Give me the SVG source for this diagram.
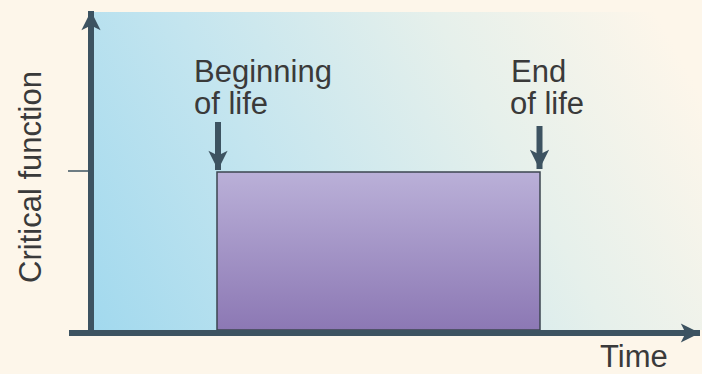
<svg xmlns="http://www.w3.org/2000/svg" width="702" height="374" viewBox="0 0 702 374">
  <defs>
    <linearGradient id="bg" gradientUnits="userSpaceOnUse" x1="94" y1="330" x2="660" y2="20">
      <stop offset="0" stop-color="#a2d9ee"/>
      <stop offset="0.35" stop-color="#c4e5ef"/>
      <stop offset="0.7" stop-color="#e6f0eb"/>
      <stop offset="1" stop-color="#fdf6ea"/>
    </linearGradient>
    <linearGradient id="bar" x1="0" y1="0" x2="0" y2="1">
      <stop offset="0" stop-color="#bab0d8"/>
      <stop offset="1" stop-color="#8c78b4"/>
    </linearGradient>
    <marker id="ah" viewBox="0 0 10 10" refX="10" refY="5" markerWidth="3.6" markerHeight="3.2" markerUnits="strokeWidth" orient="auto">
      <path d="M0,0 L10,5 L0,10 L2.5,5 Z" fill="#3d5361"/>
    </marker>
    <style>
      .t { font-family: "Liberation Sans", Arial, sans-serif; font-size: 31px; fill: #3a3a3a; }
      .ax { stroke: #3d5361; fill: none; }
    </style>
  </defs>
  <rect width="702" height="374" fill="#fdf6ea"/>
  <rect x="94" y="12" width="608" height="318" fill="url(#bg)"/>

  <g id="bar-node">
    <rect x="217" y="172" width="323" height="158" fill="url(#bar)" stroke="#3d4650" stroke-width="1.5"/>
  </g>

  <g id="connectors">
    <path class="ax" d="M91,336 L91,11" stroke-width="6" marker-end="url(#ah)"/>
    <path class="ax" d="M69,333 L700,333" stroke-width="6" marker-end="url(#ah)"/>
    <line x1="68" y1="171" x2="88" y2="171" stroke="#3d5361" stroke-width="1.5"/>
    <path class="ax" d="M218,122 L218,170" stroke-width="6" marker-end="url(#ah)"/>
    <path class="ax" d="M539.5,126 L539.5,169" stroke-width="6" marker-end="url(#ah)"/>
  </g>

  <g id="label-beginning">
    <text class="t" x="194" y="82">Beginning</text>
    <text class="t" x="194" y="114">of life</text>
  </g>
  <g id="label-end">
    <text class="t" x="511" y="82">End</text>
    <text class="t" x="510" y="114">of life</text>
  </g>
  <g id="label-time">
    <text class="t" x="600" y="367">Time</text>
  </g>
  <g id="label-y">
    <text class="t" transform="translate(41,177) rotate(-90)" text-anchor="middle">Critical function</text>
  </g>
</svg>
